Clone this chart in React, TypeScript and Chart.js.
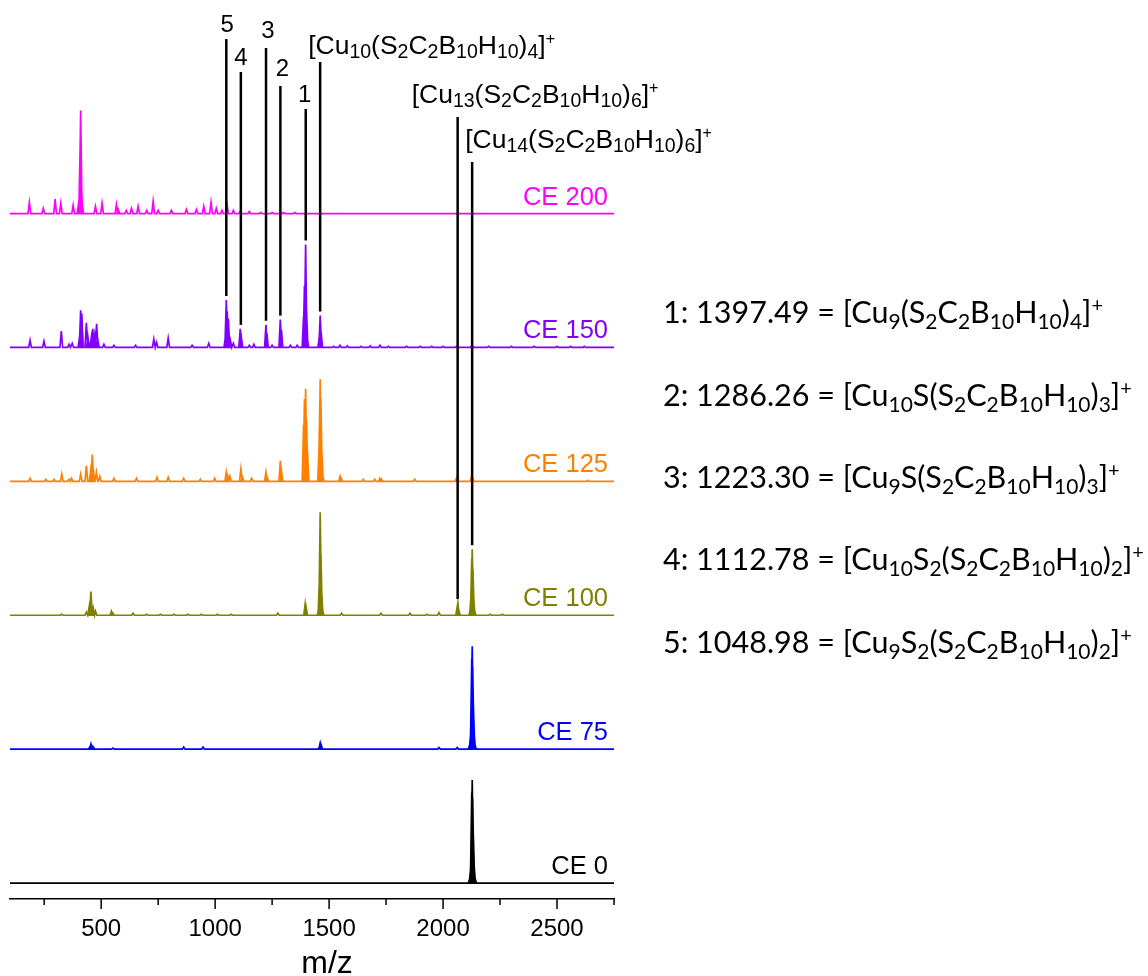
import React, { useEffect, useRef } from 'react';
import { Chart, registerables } from 'chart.js';

Chart.register(...registerables);

// ---------------- data ----------------
const mzMin = 100;
const mzMax = 2750;
const tickValues = [250, 500, 750, 1000, 1250, 1500, 1750, 2000, 2250, 2500, 2750];
const tickLabelValues = [500, 1000, 1500, 2000, 2500];
const axisTitle = 'm/z';

const seriesNames = ['CE 0', 'CE 75', 'CE 100', 'CE 125', 'CE 150', 'CE 200'];

// [m/z, relative intensity (%)]
const ce0Peaks = [
  [2117, 4], [2121, 14], [2124, 32], [2126, 88], [2128, 100], [2130, 82], [2133, 45], [2136, 18], [2140, 5],
];
const ce75Peaks = [
  [450, 2], [455, 5], [460, 3], [466, 2], [552, 1], [862, 2], [947, 2], [1457, 2], [1461, 6], [1465, 4],
  [1982, 1.5], [2062, 1.5], [2117, 4], [2121, 14], [2124, 32], [2126, 88], [2128, 100], [2130, 80],
  [2133, 42], [2136, 16], [2140, 4],
];
const ce100Peaks = [
  [326, 1], [435, 3], [448, 9], [455, 23], [458, 10], [465, 7], [475, 4], [545, 4], [552, 2], [640, 2],
  [700, 1], [760, 1], [820, 1], [880, 1], [940, 1], [1010, 1], [1070, 1], [1275, 2], [1395, 11], [1399, 8],
  [1455, 8], [1458, 40], [1461, 100], [1464, 60], [1467, 25], [1471, 5], [1555, 2], [1728, 2], [1855, 2],
  [1930, 1], [1982, 2.5], [2062, 8], [2065, 12], [2069, 5], [2120, 6], [2123, 20], [2126, 55], [2128, 64],
  [2131, 45], [2134, 18], [2138, 5], [2207, 1], [2260, 1],
];
const ce125Peaks = [
  [188, 3], [257, 2], [293, 2], [327, 7], [359, 2], [370, 3], [410, 7], [435, 15], [454, 11], [461, 26],
  [466, 10], [479, 9], [494, 5], [556, 3], [655, 3], [745, 4], [794, 4], [862, 3], [935, 2], [998, 3],
  [1049, 9], [1056, 5], [1065, 5], [1113, 12], [1120, 4], [1160, 3], [1223, 9], [1228, 4], [1286, 20],
  [1291, 10], [1388, 55], [1392, 80], [1397, 90], [1401, 60], [1405, 30], [1456, 30], [1459, 70],
  [1461, 99], [1464, 80], [1468, 30], [1472, 6], [1548, 5], [1553, 3], [1650, 2], [1700, 2], [1723, 3],
  [1730, 2], [1876, 2], [2059, 3], [2064, 2], [2125, 5], [2130, 3], [2634, 1],
];
const ce150Peaks = [
  [188, 7], [249, 6], [325, 16], [359, 3], [373, 4], [405, 10], [410, 36], [415, 33], [435, 24], [442, 10],
  [457, 10], [463, 18], [472, 12], [480, 23], [485, 8], [512, 3], [556, 2], [651, 2], [731, 8], [743, 5],
  [794, 9], [899, 2], [972, 4], [1045, 10], [1049, 46], [1053, 35], [1058, 28], [1062, 10], [1067, 7],
  [1080, 4], [1110, 18], [1115, 10], [1150, 2], [1170, 3], [1223, 22], [1227, 14], [1250, 2], [1286, 27],
  [1291, 17], [1330, 2], [1360, 2], [1388, 30], [1392, 60], [1397, 100], [1401, 36], [1405, 7], [1457, 10],
  [1461, 31], [1465, 15], [1520, 1], [1548, 2], [1580, 1.5], [1640, 1], [1680, 1.5], [1723, 2], [1760, 1],
  [1840, 1], [1900, 1], [1950, 1], [2000, 1], [2059, 1], [2127, 2], [2200, 1], [2300, 1], [2400, 1],
  [2500, 1], [2560, 1], [2620, 1],
];
const ce200Peaks = [
  [185, 11], [246, 5], [298, 14], [323, 10], [377, 8], [401, 10], [406, 20], [408, 68], [410, 100],
  [412, 39], [416, 12], [475, 7], [504, 10], [567, 9], [575, 4], [610, 3], [633, 5], [662, 7], [700, 3],
  [728, 12], [750, 3], [808, 3], [874, 4], [918, 4], [950, 7], [982, 11], [1005, 5], [1030, 3], [1052, 9],
  [1080, 3], [1110, 2], [1150, 2], [1200, 1], [1250, 1], [1300, 1], [1350, 1],
];
const spectra = [ce0Peaks, ce75Peaks, ce100Peaks, ce125Peaks, ce150Peaks, ce200Peaks];

// numbered fragments (assigned in CE 150)
const fragmentIds = ['1', '2', '3', '4', '5'];
const fragmentMz = [1397.49, 1286.26, 1223.3, 1112.78, 1048.98];
const fragmentMzText = ['1397.49', '1286.26', '1223.30', '1112.78', '1048.98'];
const fragmentFormulas = [
  '[Cu_{9}(S_{2}C_{2}B_{10}H_{10})_{4}]^{+}',
  '[Cu_{10}S(S_{2}C_{2}B_{10}H_{10})_{3}]^{+}',
  '[Cu_{9}S(S_{2}C_{2}B_{10}H_{10})_{3}]^{+}',
  '[Cu_{10}S_{2}(S_{2}C_{2}B_{10}H_{10})_{2}]^{+}',
  '[Cu_{9}S_{2}(S_{2}C_{2}B_{10}H_{10})_{2}]^{+}',
];
const fragmentTarget = ['CE 150', 'CE 150', 'CE 150', 'CE 150', 'CE 150'];

// named clusters
const clusterMz = [1460.8, 2064.0, 2127.6];
const clusterFormulas = [
  '[Cu_{10}(S_{2}C_{2}B_{10}H_{10})_{4}]^{+}',
  '[Cu_{13}(S_{2}C_{2}B_{10}H_{10})_{6}]^{+}',
  '[Cu_{14}(S_{2}C_{2}B_{10}H_{10})_{6}]^{+}',
];
const clusterTarget = ['CE 150', 'CE 100', 'CE 100'];

// ---------------- styles / layout ----------------
const seriesColors = ['#000000', '#0000FF', '#808000', '#FF8000', '#8000FF', '#FF00FF'];
const SANS = "'Liberation Sans', Arial, sans-serif";
const LIST_FONT = 'Lato, sans-serif';
const traceSpacing = 130;
const peakHalfWidth = 6;
const fragmentLineTop = [109, 86, 48, 72, 39];
const fragmentLabelBase = [102, 76, 38, 65, 32];
const fragmentLabelDx = [-1, 2, 2, 0, 1];
const clusterLineTop = [62, 117, 162];
const clusterLabelBase = [54, 103, 148];
const clusterLabelDx = [-12, -46, -7];
const listX = 663;
const listBase = [323, 406, 488, 570, 653];

function buildTrace(peaks: number[][], offset: number) {
  const pts: { x: number; y: number }[] = [{ x: mzMin, y: offset }];
  for (const [mz, h] of peaks) {
    pts.push({ x: mz - peakHalfWidth, y: offset }, { x: mz, y: offset + h }, { x: mz + peakHalfWidth, y: offset });
  }
  pts.push({ x: mzMax, y: offset });
  return pts;
}

type Seg = { t: string; k: 'n' | 'sub' | 'sup' };
function parseRich(s: string): Seg[] {
  const out: Seg[] = [];
  let buf = '';
  let i = 0;
  while (i < s.length) {
    const c = s[i];
    if ((c === '_' || c === '^') && s[i + 1] === '{') {
      if (buf) { out.push({ t: buf, k: 'n' }); buf = ''; }
      const j = s.indexOf('}', i);
      out.push({ t: s.slice(i + 2, j), k: c === '_' ? 'sub' : 'sup' });
      i = j + 1;
    } else {
      buf += c;
      i++;
    }
  }
  if (buf) out.push({ t: buf, k: 'n' });
  return out;
}

type RichOpt = { family: string; size: number; sub: number; sup: number; subDy: number; supDy: number };
function drawRich(ctx: CanvasRenderingContext2D, s: string, x: number, y: number, o: RichOpt) {
  let cx = x;
  ctx.textAlign = 'left';
  ctx.textBaseline = 'alphabetic';
  for (const seg of parseRich(s)) {
    const size = seg.k === 'n' ? o.size : seg.k === 'sub' ? o.sub : o.sup;
    const dy = seg.k === 'sub' ? o.subDy : seg.k === 'sup' ? -o.supDy : 0;
    ctx.font = `${size}px ${o.family}`;
    ctx.fillText(seg.t, cx, y + dy);
    cx += ctx.measureText(seg.t).width;
  }
  return cx - x;
}

function peakTopValue(seriesName: string, mz: number) {
  const i = seriesNames.indexOf(seriesName);
  let h = 0;
  for (const [m, v] of spectra[i]) if (Math.abs(m - mz) <= 8 && v > h) h = v;
  return i * traceSpacing + h;
}

const overlayPlugin = {
  id: 'msOverlay',
  afterDraw(chart: any) {
    const ctx: CanvasRenderingContext2D = chart.ctx;
    const xs = chart.scales.x;
    const ys = chart.scales.y;
    const area = chart.chartArea;
    ctx.save();

    // tick marks
    ctx.strokeStyle = '#000';
    ctx.lineWidth = 1.5;
    for (const v of tickValues) {
      const px = xs.getPixelForValue(v);
      const len = tickLabelValues.includes(v) ? 10 : 6;
      ctx.beginPath();
      ctx.moveTo(px, area.bottom);
      ctx.lineTo(px, area.bottom + len);
      ctx.stroke();
    }

    // axis title
    ctx.fillStyle = '#000';
    ctx.font = `32px ${SANS}`;
    ctx.textAlign = 'center';
    ctx.textBaseline = 'alphabetic';
    ctx.fillText(axisTitle, 327, 973);

    // series labels
    ctx.font = `25.5px ${SANS}`;
    ctx.textAlign = 'right';
    seriesNames.forEach((n, i) => {
      ctx.fillStyle = seriesColors[i];
      ctx.fillText(n, 608, ys.getPixelForValue(i * traceSpacing) - 9);
    });

    // annotation lines
    ctx.strokeStyle = '#000';
    ctx.lineWidth = 2.5;
    const drawLine = (mz: number, top: number, target: string) => {
      const px = xs.getPixelForValue(mz);
      const bottom = ys.getPixelForValue(peakTopValue(target, mz)) - 4;
      ctx.beginPath();
      ctx.moveTo(px, top);
      ctx.lineTo(px, bottom);
      ctx.stroke();
    };
    fragmentMz.forEach((mz, i) => drawLine(mz, fragmentLineTop[i], fragmentTarget[i]));
    clusterMz.forEach((mz, i) => drawLine(mz, clusterLineTop[i], clusterTarget[i]));

    // fragment numbers
    ctx.fillStyle = '#000';
    ctx.font = `24px ${SANS}`;
    ctx.textAlign = 'center';
    ctx.textBaseline = 'alphabetic';
    fragmentIds.forEach((id, i) => {
      ctx.fillText(id, xs.getPixelForValue(fragmentMz[i]) + fragmentLabelDx[i], fragmentLabelBase[i]);
    });

    // cluster formulas
    const clusterOpt: RichOpt = { family: SANS, size: 26.5, sub: 19.5, sup: 16, subDy: 4, supDy: 10 };
    clusterFormulas.forEach((f, i) => {
      drawRich(ctx, f, xs.getPixelForValue(clusterMz[i]) + clusterLabelDx[i], clusterLabelBase[i], clusterOpt);
    });

    // assignment list
    const listOpt: RichOpt = { family: LIST_FONT, size: 30.5, sub: 21, sup: 20, subDy: 6, supDy: 11 };
    fragmentIds.forEach((id, i) => {
      drawRich(ctx, `${id}: ${fragmentMzText[i]} = ${fragmentFormulas[i]}`, listX, listBase[i], listOpt);
    });

    ctx.restore();
  },
};

export default function App() {
  const ref = useRef<HTMLCanvasElement>(null);
  useEffect(() => {
    const datasets = spectra.map((peaks, i) => ({
      label: seriesNames[i],
      data: buildTrace(peaks, i * traceSpacing),
      borderColor: seriesColors[i],
      backgroundColor: seriesColors[i],
      borderWidth: 1.7,
      pointRadius: 0,
      fill: false,
      tension: 0,
    }));
    const chart = new Chart(ref.current as HTMLCanvasElement, {
      type: 'line',
      data: { datasets } as any,
      options: {
        animation: false,
        responsive: false,
        maintainAspectRatio: false,
        devicePixelRatio: 1,
        layout: { padding: { left: 10, right: 534, top: 9, bottom: 0 } },
        plugins: { legend: { display: false }, tooltip: { enabled: false } },
        scales: {
          x: {
            type: 'linear',
            min: mzMin,
            max: mzMax,
            afterBuildTicks: (scale: any) => {
              scale.ticks = tickValues.map((v) => ({ value: v }));
            },
            afterFit: (scale: any) => {
              scale.height = 77;
            },
            grid: { display: false, drawTicks: false, tickLength: 0 },
            border: { display: true, color: '#000', width: 1.5 },
            ticks: {
              autoSkip: false,
              maxRotation: 0,
              minRotation: 0,
              padding: 16,
              color: '#000',
              font: { family: SANS, size: 24 },
              callback: (v: any) => (tickLabelValues.includes(Number(v)) ? String(v) : ''),
            },
          },
          y: {
            type: 'linear',
            display: false,
            min: -15.5,
            max: 848.6,
          },
        },
      } as any,
      plugins: [overlayPlugin],
    });
    return () => chart.destroy();
  }, []);
  return (
    <canvas
      ref={ref}
      width={1148}
      height={976}
      style={{ position: 'fixed', left: 0, top: 0, width: 1148, height: 976 }}
    />
  );
}
